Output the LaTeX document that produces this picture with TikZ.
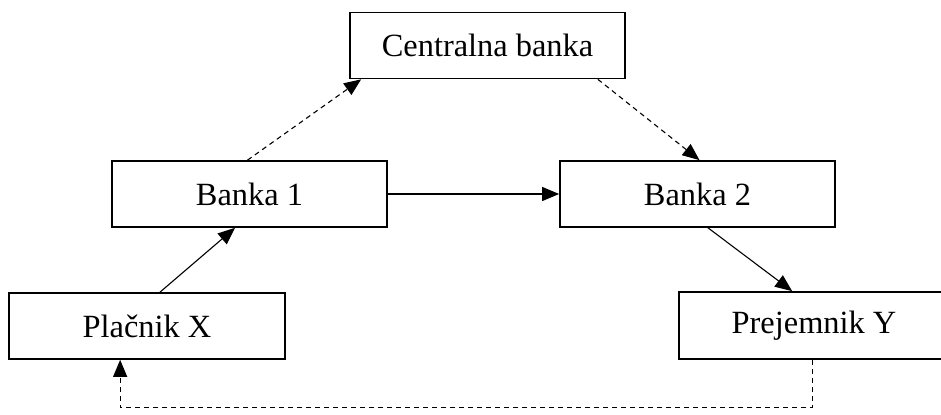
\documentclass[tikz,border=0pt]{standalone}
\usepackage{fontspec}
\setmainfont{Liberation Serif}
\usetikzlibrary{arrows.meta,calc}

\tikzset{
  box/.style={draw, line width=0.85pt, minimum width=137.5pt, minimum height=33pt,
              inner sep=0pt, font=\fontsize{16.2}{19}\selectfont},
  flow/.style={line width=0.55pt, -{Triangle[length=8.5pt,width=7pt]}},
  dflow/.style={flow, dash pattern=on 2.5pt off 2pt},
}

\begin{document}
\begin{tikzpicture}[x=0.5pt, y=-0.5pt]
  \useasboundingbox (0,0) rectangle (941,415);
  \clip (0,0) rectangle (941,415);

  % institutions and parties
  \node[box] (cb) at (487.5,45.5) {Centralna banka};
  \node[box] (b1) at (249.5,194) {Banka 1};
  \node[box] (b2) at (697.5,194) {Banka 2};
  \node[box, minimum width=138pt] (px) at (147,326) {Plačnik X};
  \node[box, minimum width=135pt, minimum height=33.5pt] (py) at (814,325.5) {Prejemnik Y};

  % settlement through the central bank
  \draw[dflow] ($(b1.north)+(-2,0)$) -- ($(cb.south west)+(12,0)$);
  \draw[dflow] ($(cb.south east)+(-28,0)$) -- ($(b2.north)+(2,0)$);

  % payment chain
  \draw[flow] (b1.east) -- (b2.west);
  \draw[flow] ($(px.north)+(13,0)$) -- ($(b1.south)+(-14.5,0)$);
  \draw[flow] ($(b2.south)+(10.5,0)$) -- ($(py.north west)+(114,0)$);

  % feedback from the recipient to the payer
  \coordinate (r1) at ($(py.south west)+(134,48)$);
  \coordinate (r2) at ($(px.south west)+(112,48)$);
  \draw[dflow] ($(py.south west)+(134,0)$) -- (r1) -- (r2) -- ($(px.south west)+(112,0)$);
\end{tikzpicture}
\end{document}
